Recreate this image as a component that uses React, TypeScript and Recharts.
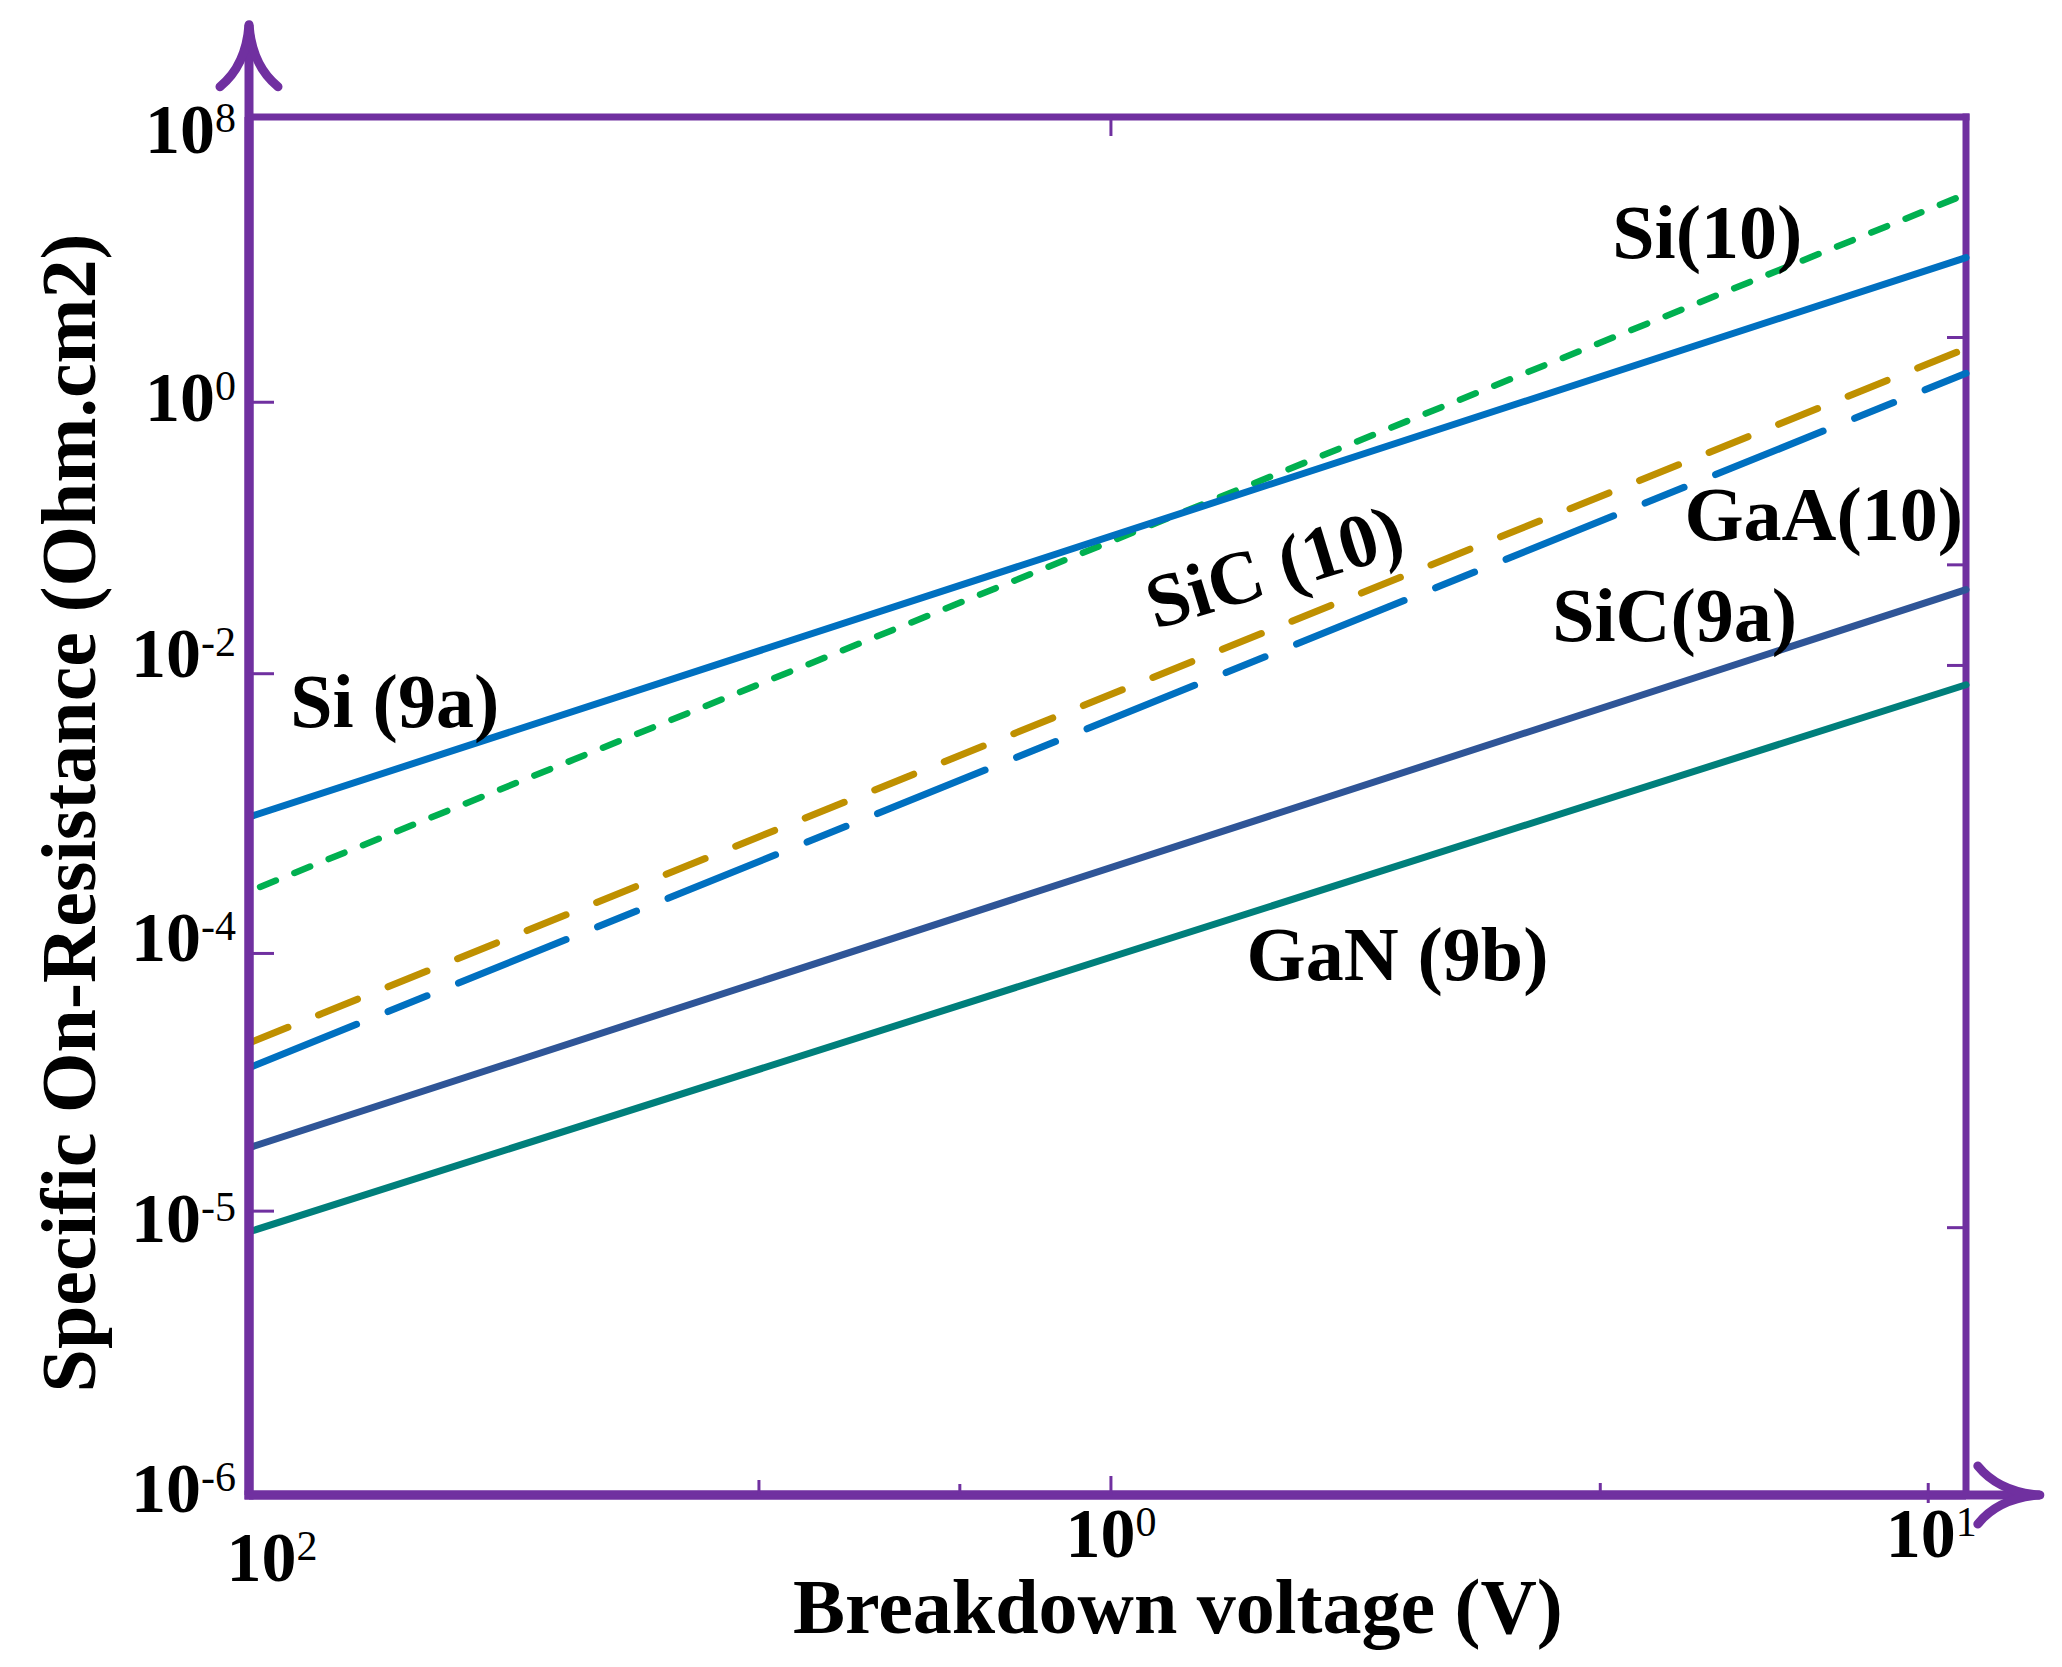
import React from "react";
import { LineChart, Line, XAxis, YAxis, ReferenceLine, ReferenceDot } from "recharts";

const PURPLE = "#7030A0";
const FONT = '"Liberation Serif", "Times New Roman", serif';

// values are in frame units: 0..100 from left to right and from bottom to top
const xPoints = [0, 100];
const si9a = [49.2, 89.8];
const si10 = [43.8, 94.4];
const sic10 = [32.8, 83.2];
const gaa10 = [31.0, 81.4];
const sic9a = [25.2, 65.7];
const gan9b = [19.1, 58.8];

const bottomTicks = [0, 29.7, 41.4, 50.2, 78.7, 97.8];
const bottomTickExp = ["2", "", "", "0", "", "1"];
const topTicks = [50.2];
const leftTicks = [100, 79.3, 59.6, 39.3, 20.6, 0];
const leftTickExp = ["8", "0", "-2", "-4", "-5", "-6"];
const rightTicks = [84.0, 67.5, 60.2, 19.4];

const labelTexts = ["Si(10)", "Si (9a)", "SiC (10)", "GaA(10)", "SiC(9a)", "GaN (9b)"];
const labelX = [79.4, 2.4, 52.8, 83.6, 75.9, 58.1];
const labelY = [89.8, 55.7, 62.8, 69.3, 62.0, 37.4];

// styling per tick (mark length up/down, label nudges)
const bottomMark: Record<number, [number, number]> = { 29.7: [15, 0], 41.4: [11, 0], 50.2: [19, 0], 78.7: [12, 0], 97.8: [12, 8] };
const bottomNudge: Record<number, [number, number]> = { 0: [23, 86], 50.2: [0, 62], 97.8: [3, 62] };
const leftNudge: Record<number, number> = { 100: 36, 79.3: 19, 59.6: 3, 39.3: 8, 20.6: 31, 0: 17 };
const labelRotate: Record<string, number> = { "SiC (10)": -17 };

function TenPower({ x, y, exp, anchor }: { x: number; y: number; exp: string; anchor: "start" | "middle" | "end" }) {
  return (
    <text x={x} y={y} textAnchor={anchor} fontFamily={FONT} fill="#000">
      <tspan fontSize={70} fontWeight="bold">10</tspan>
      <tspan fontSize={42} dy={-21}>{exp}</tspan>
    </text>
  );
}

function BottomTick(props: any) {
  const { x, y, payload } = props;
  const v = payload.value;
  const i = bottomTicks.indexOf(v);
  const mark = bottomMark[v];
  const nudge = bottomNudge[v];
  return (
    <g>
      {mark && <line x1={x} x2={x} y1={y - mark[0]} y2={y + mark[1]} stroke={PURPLE} strokeWidth={3} />}
      {bottomTickExp[i] && nudge && <TenPower x={x + nudge[0]} y={y + nudge[1]} exp={bottomTickExp[i]} anchor="middle" />}
    </g>
  );
}

function LeftTick(props: any) {
  const { x, y, payload } = props;
  const v = payload.value;
  const i = leftTicks.indexOf(v);
  return (
    <g>
      {v !== 0 && v !== 100 && <line x1={x} x2={x + 25} y1={y} y2={y} stroke={PURPLE} strokeWidth={3} />}
      <TenPower x={x - 13} y={y + (leftNudge[v] ?? 17)} exp={leftTickExp[i]} anchor="end" />
    </g>
  );
}

// inward marks on the top and right frame edges
const TopMark = (p: any) => <line x1={p.cx} x2={p.cx} y1={p.cy} y2={p.cy + 19} stroke={PURPLE} strokeWidth={3} />;
const RightMark = (p: any) => <line x1={p.cx - 19} x2={p.cx} y1={p.cy} y2={p.cy} stroke={PURPLE} strokeWidth={3} />;

const VArrow = (p: any) => {
  const { x1, y1, x2, y2 } = p;
  return (
    <g fill="none" stroke={PURPLE} strokeWidth={9}>
      <line x1={x1} y1={y1 + 4.5} x2={x2} y2={y2} />
      <path
        d={`M ${x2 - 29} ${y2 + 62} Q ${x2 - 3} ${y2 + 41} ${x2} ${y2} Q ${x2 + 3} ${y2 + 41} ${x2 + 29} ${y2 + 62}`}
        strokeLinecap="round"
        strokeLinejoin="round"
      />
    </g>
  );
};

const HArrow = (p: any) => {
  const { x1, y1, x2, y2 } = p;
  return (
    <g fill="none" stroke={PURPLE} strokeWidth={9}>
      <line x1={x1 - 4.5} y1={y1} x2={x2} y2={y2} />
      <path
        d={`M ${x2 - 62} ${y2 - 29} Q ${x2 - 41} ${y2 - 3} ${x2} ${y2} Q ${x2 - 41} ${y2 + 3} ${x2 - 62} ${y2 + 29}`}
        strokeLinecap="round"
        strokeLinejoin="round"
      />
    </g>
  );
};

const FrameLine = (p: any) => (
  <line x1={p.x1} y1={p.y1} x2={p.x2} y2={p.y2} stroke={PURPLE} strokeWidth={7} strokeLinecap="square" />
);

const textLabel = (text: string) => (p: any) => {
  const rot = labelRotate[text];
  return (
    <text
      x={p.cx}
      y={p.cy}
      transform={rot ? `rotate(${rot} ${p.cx} ${p.cy})` : undefined}
      fontFamily={FONT}
      fontWeight="bold"
      fontSize={76}
      fill="#000"
    >
      {text}
    </text>
  );
};

const XTitle = (p: any) => {
  const vb = p.viewBox || { x: 249, y: 1495, width: 1717, height: 172 };
  return (
    <text x={vb.x + vb.width * 0.541} y={vb.y + 138} textAnchor="middle" fontFamily={FONT} fontWeight="bold" fontSize={78} fill="#000">
      Breakdown voltage (V)
    </text>
  );
};

const YTitle = (p: any) => {
  const vb = p.viewBox || { x: 0, y: 117, width: 249, height: 1378 };
  const cx = vb.x + 95;
  const cy = vb.y + vb.height / 2 + 7;
  return (
    <text x={cx} y={cy} transform={`rotate(-90 ${cx} ${cy})`} textAnchor="middle" fontFamily={FONT} fontWeight="bold" fontSize={78} fill="#000">
      Specific On-Resistance (Ohm.cm2)
    </text>
  );
};

export default function App() {
  const data = xPoints.map((x, i) => ({
    x,
    si9a: si9a[i],
    si10: si10[i],
    sic10: sic10[i],
    gaa10: gaa10[i],
    sic9a: sic9a[i],
    gan9b: gan9b[i],
  }));

  return (
    <div style={{ position: "absolute", left: 0, top: 0, background: "#fff" }}>
      <LineChart width={2062} height={1667} data={data} margin={{ top: 117, right: 96, bottom: 0, left: 0 }}>
        <XAxis
          type="number"
          dataKey="x"
          domain={[0, 100]}
          ticks={bottomTicks}
          interval={0}
          height={172}
          tickSize={0}
          tickMargin={0}
          tickLine={false}
          axisLine={{ stroke: PURPLE, strokeWidth: 9 }}
          tick={<BottomTick />}
          label={{ content: XTitle }}
        />
        <YAxis
          type="number"
          domain={[0, 100]}
          ticks={leftTicks}
          interval={0}
          width={249}
          tickSize={0}
          tickMargin={0}
          tickLine={false}
          axisLine={{ stroke: PURPLE, strokeWidth: 9 }}
          tick={<LeftTick />}
          label={{ content: YTitle }}
        />

        <ReferenceLine y={100} ifOverflow="visible" shape={FrameLine} />
        <ReferenceLine x={100} ifOverflow="visible" shape={FrameLine} />
        {topTicks.map((v) => (
          <ReferenceDot key={`t${v}`} x={v} y={100} r={0} ifOverflow="visible" shape={TopMark} />
        ))}
        {rightTicks.map((v) => (
          <ReferenceDot key={`r${v}`} x={100} y={v} r={0} ifOverflow="visible" shape={RightMark} />
        ))}

        <Line dataKey="si10" stroke="#00B050" strokeWidth={6.5} strokeDasharray="17 20" strokeDashoffset={25} strokeLinecap="round" dot={false} activeDot={false} isAnimationActive={false} />
        <Line dataKey="si9a" stroke="#0070C0" strokeWidth={7} strokeLinecap="round" dot={false} activeDot={false} isAnimationActive={false} />
        <Line dataKey="sic10" stroke="#BF9000" strokeWidth={7} strokeDasharray="42 33" strokeLinecap="round" dot={false} activeDot={false} isAnimationActive={false} />
        <Line dataKey="gaa10" stroke="#0070C0" strokeWidth={7} strokeDasharray="116 34 42 34" strokeLinecap="round" dot={false} activeDot={false} isAnimationActive={false} />
        <Line dataKey="sic9a" stroke="#2F5597" strokeWidth={7} strokeLinecap="round" dot={false} activeDot={false} isAnimationActive={false} />
        <Line dataKey="gan9b" stroke="#007F7B" strokeWidth={7} strokeLinecap="round" dot={false} activeDot={false} isAnimationActive={false} />

        {labelTexts.map((t, i) => (
          <ReferenceDot key={t} x={labelX[i]} y={labelY[i]} r={0} ifOverflow="visible" shape={textLabel(t)} />
        ))}

        <ReferenceLine segment={[{ x: 0, y: 0 }, { x: 0, y: 106.7 }]} ifOverflow="visible" shape={VArrow} />
        <ReferenceLine segment={[{ x: 0, y: 0 }, { x: 104.3, y: 0 }]} ifOverflow="visible" shape={HArrow} />
      </LineChart>
    </div>
  );
}
